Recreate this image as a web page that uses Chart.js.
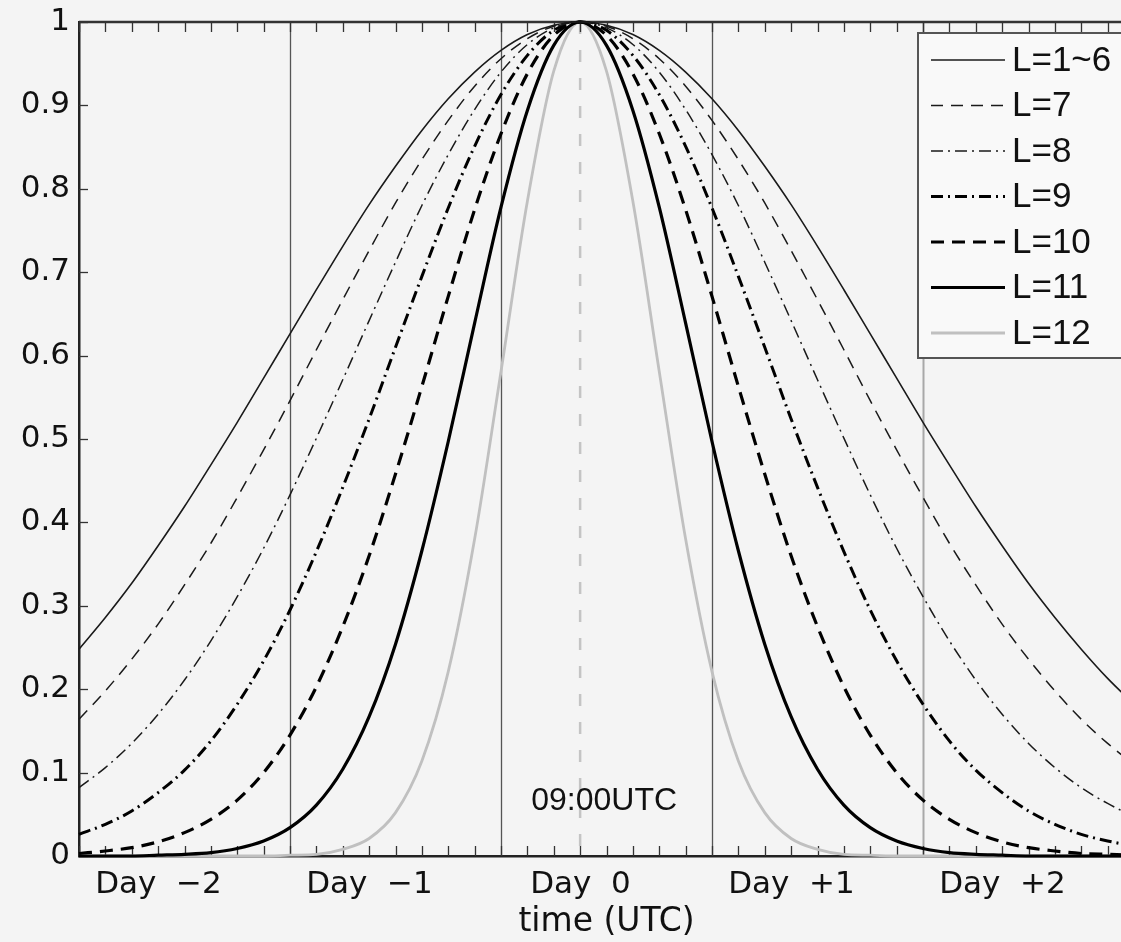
<!DOCTYPE html>
<html>
<head>
<meta charset="utf-8">
<script src="https://cdn.jsdelivr.net/npm/chart.js@4.4.1/dist/chart.umd.min.js"></script>
<style>
  html, body { margin: 0; padding: 0; background: #f4f4f4; overflow: hidden; }
  #wrap { width: 1121px; height: 942px; overflow: hidden; }
</style>
</head>
<body>
<div id="wrap"><canvas id="myChart" width="1140" height="942"></canvas></div>
<script>
// time axis in hours, day 0 starts at 00 UTC
var hours = [-48,-45,-42,-39,-36,-33,-30,-27,-24,-21,-18,-15,-12,-9,-6,-3,0,3,6,9,12,15,18,21,24,27,30,33,36,39,42,45,48,51,54,57,60,63,66,69,72];

var seriesNames = ['L=1~6','L=7','L=8','L=9','L=10','L=11','L=12'];

var L1_6 = [.248,.286,.327,.372,.419,.469,.520,.573,.626,.679,.731,.781,.827,.870,.908,.940,.966,.985,.996,1,
            .996,.985,.966,.940,.908,.870,.827,.781,.731,.679,.626,.573,.520,.469,.419,.372,.327,.286,.248,.213,.182];
var L7   = [.164,.198,.236,.278,.325,.375,.430,.487,.546,.607,.667,.726,.783,.835,.882,.923,.956,.980,.995,1,
            .995,.980,.956,.923,.882,.835,.783,.726,.667,.607,.546,.487,.430,.375,.325,.278,.236,.198,.164,.135,.110];
var L8   = [.082,.106,.135,.170,.211,.258,.311,.369,.433,.501,.571,.642,.712,.780,.841,.895,.940,.973,.993,1,
            .993,.973,.940,.895,.841,.780,.712,.642,.571,.501,.433,.369,.311,.258,.211,.170,.135,.106,.082,.063,.047];
var L9   = [.026,.038,.054,.076,.103,.138,.182,.234,.295,.365,.442,.524,.610,.695,.777,.851,.913,.960,.990,1,
            .990,.960,.913,.851,.777,.695,.610,.524,.442,.365,.295,.234,.182,.138,.103,.076,.054,.038,.026,.018,.012];
var L10  = [.003,.006,.010,.017,.028,.044,.067,.100,.145,.203,.275,.360,.458,.563,.671,.775,.866,.938,.984,1,
            .984,.938,.866,.775,.671,.563,.458,.360,.275,.203,.145,.100,.067,.044,.028,.017,.010,.006,.003,.002,.001];
var L11  = [0,0,0,.001,.002,.004,.009,.018,.034,.061,.104,.167,.254,.366,.497,.639,.778,.894,.972,1,
            .972,.894,.778,.639,.497,.366,.254,.167,.104,.061,.034,.018,.009,.004,.002,.001,0,0,0,0,0];
var L12  = [0,0,0,0,0,0,0,0,.001,.002,.008,.021,.052,.114,.221,.380,.581,.785,.941,1,
            .941,.785,.581,.380,.221,.114,.052,.021,.008,.002,.001,0,0,0,0,0,0,0,0,0,0];

var dayCenters = [-36,-12,12,36,60];
var dayLabels = ['Day  \u22122','Day  \u22121','Day  0','Day  +1','Day  +2'];
var dayEdges = [-24,0,24,48];
var markerHour = 9;
var markerText = '09:00UTC';

// line styles
var styles = [
  {color:'#1a1a1a', width:1.6, dash:[]},
  {color:'#1a1a1a', width:1.5, dash:[12,8]},
  {color:'#1a1a1a', width:1.5, dash:[12,5,2,5]},
  {color:'#000000', width:3,   dash:[12,5,2,5]},
  {color:'#000000', width:3.2, dash:[13,8]},
  {color:'#000000', width:3.2, dash:[]},
  {color:'#c0c0c0', width:2.8, dash:[]}
];
var allSeries = [L1_6, L7, L8, L9, L10, L11, L12];

var datasets = allSeries.map(function(vals, k){
  return {
    label: seriesNames[k],
    data: hours.map(function(t, i){ return {x:t, y:vals[i]}; }),
    borderColor: styles[k].color,
    borderWidth: styles[k].width,
    borderDash: styles[k].dash,
    pointRadius: 0,
    fill: false,
    cubicInterpolationMode: 'monotone',
    clip: 5
  };
});

var deco = {
  id: 'deco',
  beforeDraw: function(chart){
    var ctx = chart.ctx;
    ctx.save();
    ctx.fillStyle = '#f4f4f4';
    ctx.fillRect(0, 0, chart.width, chart.height);
    ctx.restore();
  },
  beforeDatasetsDraw: function(chart){
    var ctx = chart.ctx, a = chart.chartArea, x = chart.scales.x, y = chart.scales.y;
    ctx.save();
    // day separators
    dayEdges.forEach(function(d, i){
      var px = Math.round(x.getPixelForValue(d)) + 0.5;
      ctx.strokeStyle = i == dayEdges.length - 1 ? '#a8a8a8' : '#555';
      ctx.lineWidth = i == dayEdges.length - 1 ? 2 : 1.3;
      ctx.beginPath(); ctx.moveTo(px, a.top); ctx.lineTo(px, a.bottom); ctx.stroke();
    });
    // 09:00 marker
    var mx = x.getPixelForValue(markerHour);
    ctx.strokeStyle = '#c4c4c4';
    ctx.lineWidth = 2.5;
    ctx.setLineDash([12,16]);
    ctx.beginPath(); ctx.moveTo(mx, a.top); ctx.lineTo(mx, a.bottom); ctx.stroke();
    ctx.setLineDash([]);
    // inward ticks
    ctx.strokeStyle = '#333';
    ctx.lineWidth = 1.3;
    x.ticks.forEach(function(tk){
      var px = Math.round(x.getPixelForValue(tk.value)) + 0.5;
      ctx.beginPath();
      ctx.moveTo(px, a.bottom); ctx.lineTo(px, a.bottom - 10);
      ctx.moveTo(px, a.top); ctx.lineTo(px, a.top + 10);
      ctx.stroke();
    });
    y.ticks.forEach(function(tk){
      var py = Math.round(y.getPixelForValue(tk.value)) + 0.5;
      ctx.beginPath(); ctx.moveTo(a.left, py); ctx.lineTo(a.left + 9, py); ctx.stroke();
    });
    // top border
    ctx.strokeStyle = '#333';
    ctx.lineWidth = 2.5;
    ctx.beginPath(); ctx.moveTo(a.left, a.top); ctx.lineTo(a.right, a.top); ctx.stroke();
    ctx.restore();
  },
  afterDatasetsDraw: function(chart){
    var ctx = chart.ctx, x = chart.scales.x;
    ctx.save();
    ctx.fillStyle = '#111';
    ctx.font = '32px "Liberation Sans", Arial, sans-serif';
    ctx.textAlign = 'center';
    ctx.textBaseline = 'middle';
    ctx.fillText(markerText, x.getPixelForValue(markerHour) + 24, 801);

    // legend box
    var bx = 918, by = 33, bw = 240, bh = 325;
    ctx.fillStyle = '#f9f9f9';
    ctx.fillRect(bx, by, bw, bh);
    ctx.strokeStyle = '#555';
    ctx.lineWidth = 2;
    ctx.strokeRect(bx, by, bw, bh);
    ctx.font = '35px "Liberation Sans", Arial, sans-serif';
    ctx.textAlign = 'left';
    chart.data.datasets.forEach(function(ds, i){
      var ry = 60 + i * 45.5;
      ctx.strokeStyle = ds.borderColor;
      ctx.lineWidth = ds.borderWidth;
      ctx.setLineDash(ds.borderDash);
      ctx.beginPath(); ctx.moveTo(931, ry); ctx.lineTo(1005, ry); ctx.stroke();
      ctx.setLineDash([]);
      ctx.fillStyle = '#111';
      ctx.fillText(ds.label, 1012, ry + 1);
    });
    ctx.restore();
  }
};

var myChart = new Chart(document.getElementById('myChart'), {
  type: 'line',
  data: { datasets: datasets },
  plugins: [deco],
  options: {
    responsive: false,
    animation: false,
    events: [],
    layout: { padding: { left: 0, top: 22, right: 6, bottom: 0 } },
    plugins: { legend: { display: false }, tooltip: { enabled: false } },
    scales: {
      x: {
        type: 'linear',
        min: -48, max: 72,
        afterFit: function(s){ s.height = 86; s.paddingLeft = 0; s.paddingRight = 0; },
        grid: { drawOnChartArea: false, drawTicks: false },
        border: { display: true, color: '#222', width: 2.5 },
        ticks: {
          stepSize: 3,
          autoSkip: false,
          maxRotation: 0,
          padding: 10,
          labelOffset: -26,
          color: '#111',
          font: { family: '"DejaVu Sans"', size: 31 },
          callback: function(v){
            var i = dayCenters.indexOf(v);
            return i >= 0 ? dayLabels[i] : '';
          }
        },
        title: {
          display: true,
          text: 'time (UTC)',
          color: '#111',
          font: { family: '"DejaVu Sans"', size: 33 },
          padding: { top: 0, bottom: 0 }
        }
      },
      y: {
        min: 0, max: 1,
        afterFit: function(s){ s.width = 79; s.paddingTop = 0; s.paddingBottom = 0; },
        grid: { drawOnChartArea: false, drawTicks: false },
        border: { display: true, color: '#222', width: 2.5 },
        ticks: {
          stepSize: 0.1,
          padding: 9,
          color: '#111',
          font: { family: '"DejaVu Sans"', size: 31 },
          callback: function(v){ return String(Math.round(v * 10) / 10); }
        }
      }
    }
  }
});
</script>
</body>
</html>
